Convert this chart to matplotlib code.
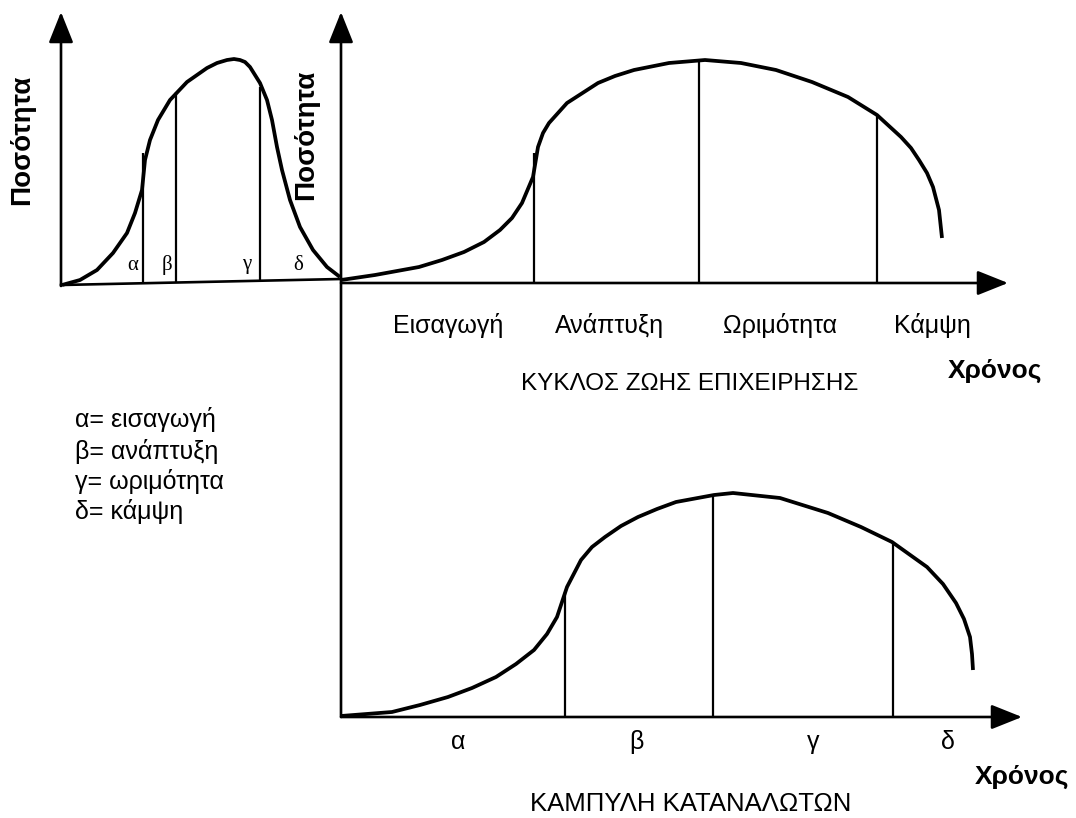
import matplotlib.pyplot as plt

# everything is placed in picture pixel space (x right, y down)
W, H = 1076, 818

# left chart: company life cycle (sales bell curve)
left_x = [62, 80, 97, 113, 127, 135, 142, 145, 150, 158, 170, 187, 207, 217, 227,
          234, 240, 245, 250, 260, 267, 272, 277, 282, 290, 300, 313, 327, 340]
left_y = [285, 280, 270, 253, 233, 213, 190, 160, 140, 120, 100, 82, 68, 63, 60,
          59, 60, 62, 67, 83, 100, 120, 147, 170, 200, 227, 250, 267, 277]
left_marks_x = [143, 176, 260]
left_marks_top = [153, 92, 87]
left_marks_base = [284, 283, 281]
left_stage_x = [133, 167, 247, 298]
left_stage_lbl = ['α', 'β', 'γ', 'δ']

# top right chart: ΚΥΚΛΟΣ ΖΩΗΣ ΕΠΙΧΕΙΡΗΣΗΣ
top_x = [341, 375, 419, 442, 464, 484, 500, 512, 522, 533, 538, 543, 549, 567, 598,
         615, 634, 669, 705, 741, 776, 812, 848, 877, 901, 911, 919, 927, 933, 939, 942]
top_y = [280, 275, 267, 260, 252, 242, 230, 218, 203, 177, 147, 133, 123, 103, 83,
         76, 70, 63, 60, 63, 70, 82, 97, 115, 137, 148, 160, 173, 187, 210, 238]
top_marks_x = [534, 699, 877]
top_marks_top = [153, 60, 115]
top_stages = ['Εισαγωγή', 'Ανάπτυξη', 'Ωριμότητα', 'Κάμψη']
top_stage_x = [448, 610, 780, 932]

# bottom chart: ΚΑΜΠΥΛΗ ΚΑΤΑΝΑΛΩΤΩΝ
bot_x = [341, 392, 420, 448, 472, 496, 516, 534, 547, 557, 567, 581, 592, 605, 621,
         638, 657, 676, 714, 733, 780, 828, 861, 892, 927, 943, 956, 964, 970, 972, 973]
bot_y = [716, 712, 705, 697, 688, 677, 664, 650, 634, 617, 587, 560, 547, 537, 526,
         517, 509, 502, 495, 493, 498, 513, 527, 542, 567, 584, 603, 619, 637, 654, 670]
bot_marks_x = [565, 713, 893]
bot_marks_top = [592, 495, 542]
bot_stage_x = [458, 636, 813, 948]
bot_stage_lbl = ['α', 'β', 'γ', 'δ']

legend_lines = ['α= εισαγωγή', 'β= ανάπτυξη', 'γ= ωριμότητα', 'δ= κάμψη']
legend_y = [420, 451, 482, 512]

plt.rcParams['font.family'] = ['Liberation Sans', 'DejaVu Sans']

fig = plt.figure(figsize=(W / 100, H / 100), dpi=100)
ax = fig.add_axes([0, 0, 1, 1])
ax.set_xlim(0, W)
ax.set_ylim(H, 0)
ax.axis('off')

K = 'black'
arrow = dict(arrowstyle='-|>,head_length=0.95,head_width=0.38', lw=1.9, color=K,
             mutation_scale=20, shrinkA=0, shrinkB=0)

# axes with arrow heads
ax.annotate('', xy=(61, 12), xytext=(61, 286), arrowprops=arrow)
ax.annotate('', xy=(341, 12), xytext=(341, 717), arrowprops=arrow)
ax.annotate('', xy=(1008, 283), xytext=(341, 283), arrowprops=arrow)
ax.annotate('', xy=(1022, 717), xytext=(341, 717), arrowprops=arrow)
ax.plot([61, 341], [285, 279], color=K, lw=1.9)

# curves
for xs, ys in [(left_x, left_y), (top_x, top_y), (bot_x, bot_y)]:
    ax.plot(xs, ys, color=K, lw=2.7, solid_joinstyle='round', solid_capstyle='butt')

# stage separators
ax.vlines(left_marks_x, left_marks_top, left_marks_base, color=K, lw=1.6)
ax.vlines(top_marks_x, top_marks_top, 283, color=K, lw=1.6)
ax.vlines(bot_marks_x, bot_marks_top, 717, color=K, lw=1.6)

# labels
for x, t in zip(left_stage_x, left_stage_lbl):
    ax.text(x, 265, t, fontsize=15, family=['Liberation Serif', 'DejaVu Serif'],
            ha='center', va='center')
for x, t in zip(top_stage_x, top_stages):
    ax.text(x, 326, t, fontsize=18, ha='center', va='center')
for x, t in zip(bot_stage_x, bot_stage_lbl):
    ax.text(x, 742, t, fontsize=18, ha='center', va='center')

ax.text(995, 371, 'Χρόνος', fontsize=19, fontweight='bold', ha='center', va='center')
ax.text(1022, 777, 'Χρόνος', fontsize=19, fontweight='bold', ha='center', va='center')
ax.text(690, 384, 'ΚΥΚΛΟΣ ΖΩΗΣ ΕΠΙΧΕΙΡΗΣΗΣ', fontsize=17.5, ha='center', va='center')
ax.text(691, 804, 'ΚΑΜΠΥΛΗ ΚΑΤΑΝΑΛΩΤΩΝ', fontsize=18.5, ha='center', va='center')

ax.text(22, 140, 'Ποσότητα', fontsize=20, fontweight='bold', rotation=90,
        ha='center', va='center')
ax.text(306, 135, 'Ποσότητα', fontsize=20, fontweight='bold', rotation=90,
        ha='center', va='center')

for y, t in zip(legend_y, legend_lines):
    ax.text(75, y, t, fontsize=18, ha='left', va='center')

fig.savefig('out.png', dpi=100)
